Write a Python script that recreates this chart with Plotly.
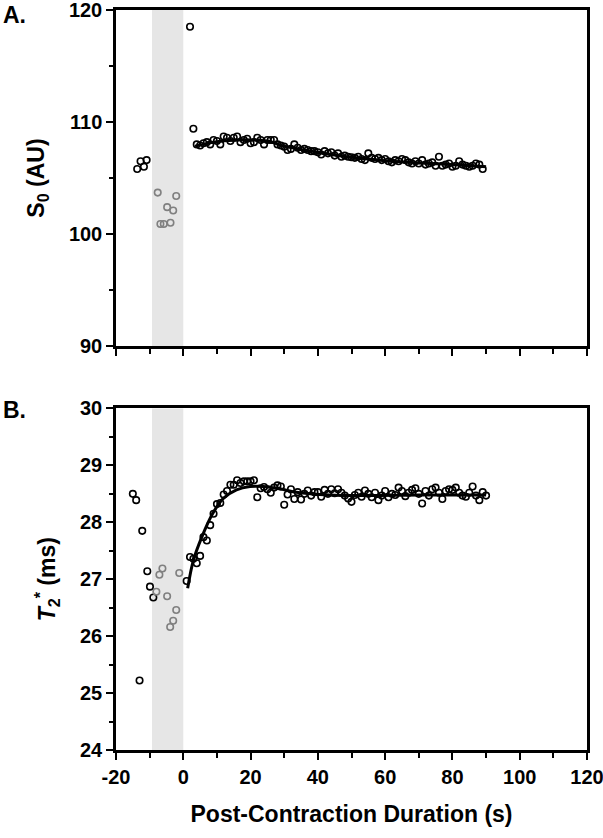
import plotly.graph_objects as go
from plotly.subplots import make_subplots

# ---- Panel A: S0 ----
a_pre_x = [-13.7, -12.7, -11.7, -10.9]
a_pre_y = [105.8, 106.5, 106.0, 106.6]
a_gray_x = [-7.6, -6.8, -5.8, -4.8, -3.8, -3.0, -2.1]
a_gray_y = [103.7, 100.9, 100.9, 102.4, 101.0, 102.1, 103.4]
a_post_x = list(range(2, 90))
a_post_y = [118.5, 109.4, 108.0, 107.9, 108.1, 108.2, 108.0, 108.4, 108.3, 108.0,
            108.7, 108.6, 108.3, 108.6, 108.7, 108.2, 108.4, 108.5, 108.1, 108.2,
            108.6, 108.4, 108.0, 108.4, 108.4, 108.4, 108.0, 107.9, 107.8, 107.5,
            107.6, 108.0, 107.7, 107.5, 107.6, 107.5, 107.4, 107.4, 107.3, 107.1,
            107.4, 107.2, 107.3, 107.0, 107.2, 106.9, 107.0, 106.9, 106.85, 106.8,
            106.9, 106.7, 106.6, 107.2, 106.8, 106.7, 106.8, 106.6, 106.7, 106.5,
            106.4, 106.6, 106.5, 106.7, 106.6, 106.4, 106.3, 106.5, 106.3, 106.6,
            106.2, 106.3, 106.4, 106.1, 106.9, 106.1, 106.2, 106.3, 106.0, 106.1,
            106.5, 106.2, 106.1, 106.0, 106.1, 106.3, 106.2, 105.8]
a_fit_x = [3.5, 10, 15, 20, 25, 30, 35, 40, 45, 50, 60, 70, 80, 90]
a_fit_y = [107.85, 108.25, 108.38, 108.4, 108.3, 107.85, 107.55, 107.3, 107.05,
           106.85, 106.55, 106.35, 106.2, 106.0]

# ---- Panel B: T2* ----
b_pre_x = [-15.0, -14.0, -13.0, -12.2, -10.7, -9.9, -8.9]
b_pre_y = [28.5, 28.39, 25.22, 27.85, 27.14, 26.87, 26.68]
b_gray_x = [-8.0, -7.1, -6.2, -4.8, -3.9, -3.0, -2.1, -1.2]
b_gray_y = [26.78, 27.08, 27.19, 26.7, 26.16, 26.27, 26.46, 27.11]
b_post_x = list(range(1, 91))
b_post_y = [26.97, 27.39, 27.36, 27.28, 27.41, 27.74, 27.68, 27.95, 28.15, 28.32,
            28.34, 28.49, 28.55, 28.66, 28.66, 28.74, 28.69, 28.72, 28.72, 28.72,
            28.74, 28.44, 28.60, 28.62, 28.58, 28.52, 28.61, 28.65, 28.63, 28.31,
            28.49, 28.58, 28.41, 28.53, 28.40, 28.50, 28.56, 28.47, 28.53, 28.53,
            28.45, 28.57, 28.50, 28.58, 28.51, 28.58, 28.52, 28.47, 28.42, 28.36,
            28.48, 28.52, 28.45, 28.56, 28.50, 28.44, 28.52, 28.39, 28.47, 28.55,
            28.44, 28.50, 28.48, 28.61, 28.55, 28.46, 28.52, 28.57, 28.60, 28.50,
            28.33, 28.55, 28.47, 28.58, 28.61, 28.52, 28.41, 28.55, 28.58, 28.57,
            28.61, 28.52, 28.47, 28.45, 28.52, 28.63, 28.47, 28.39, 28.53, 28.47]
b_fit_x = [1.3, 3, 5.5, 8.7, 11.9, 15.8, 19.8, 23.7, 28.6, 33.5, 43.4, 55, 70, 90]
b_fit_y = [26.84, 27.33, 27.74, 28.15, 28.42, 28.57, 28.63, 28.63, 28.59, 28.53,
           28.48, 28.47, 28.48, 28.48]

# tick labels (hyphen minus as in the original)
x_tickvals = [-20, 0, 20, 40, 60, 80, 100, 120]
x_ticktext = ['-20', '0', '20', '40', '60', '80', '100', '120']

shade_x0, shade_x1 = -9.3, 0

fig = make_subplots(rows=2, cols=1, vertical_spacing=0.0)

def add_panel(row, pre_x, pre_y, gray_x, gray_y, post_x, post_y, fit_x, fit_y):
    mk = dict(symbol='circle-open', size=6.5, line=dict(width=1.6))
    fig.add_trace(go.Scatter(x=pre_x, y=pre_y, mode='markers',
                             marker=dict(color='black', **mk)), row=row, col=1)
    fig.add_trace(go.Scatter(x=gray_x, y=gray_y, mode='markers',
                             marker=dict(color='#808080', **mk)), row=row, col=1)
    fig.add_trace(go.Scatter(x=post_x, y=post_y, mode='markers',
                             marker=dict(color='black', **mk)), row=row, col=1)
    fig.add_trace(go.Scatter(x=fit_x, y=fit_y, mode='lines',
                             line=dict(color='black', width=3, shape='spline')),
                  row=row, col=1)

add_panel(1, a_pre_x, a_pre_y, a_gray_x, a_gray_y, a_post_x, a_post_y, a_fit_x, a_fit_y)
add_panel(2, b_pre_x, b_pre_y, b_gray_x, b_gray_y, b_post_x, b_post_y, b_fit_x, b_fit_y)

for xr, yr in (('x', 'y'), ('x2', 'y2')):
    fig.add_shape(type='rect', xref=xr, yref=yr + ' domain', x0=shade_x0, x1=shade_x1,
                  y0=0, y1=1, fillcolor='#e6e6e6', line_width=0, layer='below')

tick_font = dict(family='Liberation Sans, Arial', size=20, color='black', weight='bold')
title_font = dict(family='Liberation Sans, Arial', size=23, color='black', weight='bold')
axis = dict(showline=True, linecolor='black', linewidth=2.5, mirror=True,
            ticks='outside', ticklen=7, tickwidth=2, tickcolor='black',
            showgrid=False, zeroline=False, tickfont=tick_font, automargin=False,
            ticklabeloverflow='allow')

fig.update_xaxes(range=[-20, 120], tickmode='array', tickvals=x_tickvals,
                 ticktext=x_ticktext,
                 minor=dict(ticks='outside', ticklen=5, tickwidth=2, dtick=10, tick0=0,
                            tickcolor='black', showgrid=False), **axis)
fig.update_xaxes(showticklabels=False, row=1, col=1)
fig.update_xaxes(title=dict(text='Post-Contraction Duration (s)', font=title_font,
                            standoff=20),
                 row=2, col=1)

fig.update_yaxes(range=[90, 120], dtick=10, tick0=90,
                 minor=dict(ticks='outside', ticklen=4, tickwidth=1.5, dtick=5,
                            tickcolor='black', showgrid=False),
                 title=dict(text='S<sub>0</sub> (AU)', font=title_font, standoff=18),
                 row=1, col=1, **axis)
fig.update_yaxes(range=[24, 30], dtick=1, tick0=24,
                 minor=dict(ticks='outside', ticklen=4, tickwidth=1.5, dtick=0.5,
                            tickcolor='black', showgrid=False),
                 title=dict(text='<i>T</i><sub>2</sub><sup>*</sup> (ms)', font=title_font,
                            standoff=18),
                 row=2, col=1, **axis)

fig.update_layout(
    width=603, height=838,
    margin=dict(l=116, r=16, t=10, b=88, autoexpand=False),
    plot_bgcolor='white', paper_bgcolor='white',
    showlegend=False,
    yaxis=dict(domain=[0.5459, 1.0]),
    yaxis2=dict(domain=[0.0, 0.4615]),
    annotations=[
        dict(text='A.', xref='paper', yref='paper', x=-0.244, y=1.0135,
             xanchor='left', yanchor='top', showarrow=False, font=title_font),
        dict(text='B.', xref='paper', yref='paper', x=-0.244, y=0.4588,
             xanchor='left', yanchor='middle', showarrow=False, font=title_font),
    ],
)

# drop the page's default body margin so the figure sits at the window's corner
fig.write_html("out.html", config={'displayModeBar': False},
               post_script="document.body.style.margin='0';")
